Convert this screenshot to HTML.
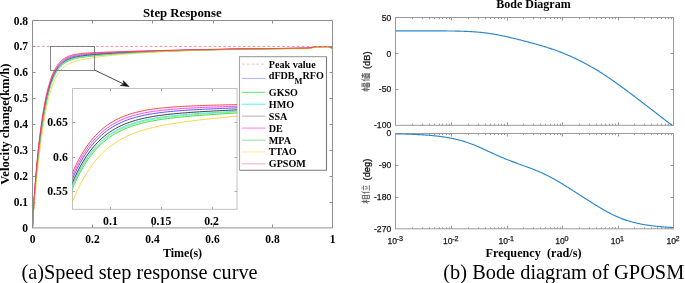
<!DOCTYPE html>
<html><head><meta charset="utf-8"><style>
html,body{margin:0;padding:0;background:#fff;}
svg{display:block;will-change:transform;}
.ser{font-family:"Liberation Serif",serif;}
.sans{font-family:"Liberation Sans",sans-serif;}
</style></head><body>
<svg width="685" height="283" viewBox="0 0 685 283">
<rect x="0" y="0" width="685" height="283" fill="#fff"/>
<defs>
<clipPath id="cm"><rect x="32.5" y="20.5" width="300" height="207.2"/></clipPath>
<clipPath id="ci"><rect x="72.5" y="88.5" width="164.5" height="120.8"/></clipPath>
<clipPath id="cb1"><rect x="395.5" y="17.5" width="278" height="108"/></clipPath>
<clipPath id="cb2"><rect x="395.5" y="133.3" width="278" height="96"/></clipPath>
</defs>

<g class="ser" font-weight="bold" fill="#000">
<text x="182.3" y="16.6" font-size="12.8" text-anchor="middle">Step Response</text>
<text x="28" y="231.70" font-size="11.5" text-anchor="end">0</text>
<text x="28" y="205.80" font-size="11.5" text-anchor="end">0.1</text>
<text x="28" y="179.90" font-size="11.5" text-anchor="end">0.2</text>
<text x="28" y="154.00" font-size="11.5" text-anchor="end">0.3</text>
<text x="28" y="128.10" font-size="11.5" text-anchor="end">0.4</text>
<text x="28" y="102.20" font-size="11.5" text-anchor="end">0.5</text>
<text x="28" y="76.30" font-size="11.5" text-anchor="end">0.6</text>
<text x="28" y="50.40" font-size="11.5" text-anchor="end">0.7</text>
<text x="28" y="24.50" font-size="11.5" text-anchor="end">0.8</text>
<text x="32.50" y="242.9" font-size="11.5" text-anchor="middle">0</text>
<text x="92.50" y="242.9" font-size="11.5" text-anchor="middle">0.2</text>
<text x="152.50" y="242.9" font-size="11.5" text-anchor="middle">0.4</text>
<text x="212.50" y="242.9" font-size="11.5" text-anchor="middle">0.6</text>
<text x="272.50" y="242.9" font-size="11.5" text-anchor="middle">0.8</text>
<text x="332.50" y="242.9" font-size="11.5" text-anchor="middle">1</text>
<text x="182.5" y="257.3" font-size="12" text-anchor="middle">Time(s)</text>
<text transform="translate(9.2,124.1) rotate(-90)" x="0" y="0" font-size="12.7" text-anchor="middle">Velocity change(km/h)</text>
</g>
<g clip-path="url(#cm)" fill="none" stroke-width="0.75">
<path d="M32.50,227.70 L32.88,220.50 L33.26,213.83 L33.64,207.61 L34.02,201.77 L34.40,196.28 L34.78,191.08 L35.16,186.15 L35.54,181.44 L35.92,176.94 L36.30,172.63 L36.68,168.48 L37.06,164.49 L37.44,160.64 L37.82,156.92 L38.20,153.33 L38.58,149.85 L38.96,146.48 L39.34,143.21 L39.72,140.05 L40.09,136.98 L40.47,134.01 L40.85,131.12 L41.23,128.33 L41.61,125.62 L41.99,122.99 L42.37,120.44 L42.75,117.98 L43.13,115.59 L43.51,113.28 L43.89,111.04 L44.27,108.88 L44.65,106.79 L45.03,104.77 L45.41,102.81 L45.79,100.92 L46.17,99.10 L46.55,97.34 L46.93,95.64 L47.31,94.01 L47.69,92.43 L48.07,90.90 L48.45,89.44 L48.83,88.03 L49.21,86.67 L49.59,85.36 L49.97,84.10 L50.35,82.89 L50.73,81.72 L51.11,80.60 L51.49,79.52 L51.87,78.49 L52.25,77.49 L52.63,76.54 L53.01,75.62 L53.39,74.74 L53.77,73.89 L54.15,73.08 L54.53,72.30 L54.91,71.56 L55.28,70.84 L55.66,70.15 L56.04,69.49 L56.42,68.86 L56.80,68.26 L57.18,67.68 L57.56,67.12 L57.94,66.59 L58.32,66.08 L58.70,65.59 L59.08,65.12 L59.46,64.67 L59.84,64.24 L60.22,63.83 L60.60,63.43 L60.98,63.05 L61.36,62.69 L61.74,62.35 L62.12,62.01 L62.50,61.70 L64.77,60.05 L67.04,58.78 L69.31,57.79 L71.58,57.01 L73.84,56.40 L76.11,55.90 L78.38,55.50 L80.65,55.17 L82.92,54.89 L85.19,54.64 L87.46,54.43 L89.73,54.24 L92.00,54.06 L94.26,53.90 L96.53,53.75 L98.80,53.60 L101.07,53.47 L103.34,53.34 L105.61,53.21 L107.88,53.09 L110.15,52.97 L112.42,52.85 L114.68,52.74 L116.95,52.63 L119.22,52.52 L121.49,52.42 L123.76,52.32 L126.03,52.22 L128.30,52.12 L130.57,52.02 L132.84,51.93 L135.11,51.83 L137.37,51.74 L139.64,51.66 L141.91,51.57 L144.18,51.48 L146.45,51.40 L148.72,51.32 L150.99,51.24 L153.26,51.16 L155.53,51.08 L157.79,51.01 L160.06,50.93 L162.33,50.86 L164.60,50.79 L166.87,50.72 L169.14,50.65 L171.41,50.59 L173.68,50.52 L175.95,50.46 L178.21,50.39 L180.48,50.33 L182.75,50.27 L185.02,50.21 L187.29,50.15 L189.56,50.10 L191.83,50.04 L194.10,49.98 L196.37,49.93 L198.63,49.88 L200.90,49.83 L203.17,49.77 L205.44,49.73 L207.71,49.68 L209.98,49.63 L212.25,49.58 L214.52,49.53 L216.79,49.49 L219.05,49.45 L221.32,49.40 L223.59,49.36 L225.86,49.32 L228.13,49.28 L230.40,49.24 L232.67,49.20 L234.94,49.16 L237.21,49.12 L239.47,49.08 L241.74,49.04 L244.01,49.01 L246.28,48.97 L248.55,48.94 L250.82,48.90 L253.09,48.87 L255.36,48.84 L257.63,48.81 L259.89,48.77 L262.16,48.74 L264.43,48.71 L266.70,48.68 L268.97,48.65 L271.24,48.62 L273.51,48.60 L275.78,48.57 L278.05,48.54 L280.32,48.51 L282.58,48.49 L284.85,48.46 L287.12,48.44 L289.39,48.41 L291.66,48.39 L293.93,48.36 L296.20,48.34 L298.47,48.31 L300.74,48.29 L303.00,48.27 L305.27,48.25 L307.54,48.21 L309.81,47.95 L312.08,47.51 L314.35,47.05 L316.62,46.75 L318.89,46.70 L321.16,46.68 L323.42,46.66 L325.69,46.64 L327.96,46.62 L330.23,47.31 L332.50,48.01" stroke="#3d3dff"/>
<path d="M32.50,227.70 L32.88,220.71 L33.26,214.36 L33.64,208.52 L34.02,203.12 L34.40,198.07 L34.78,193.31 L35.16,188.81 L35.54,184.51 L35.92,180.39 L36.30,176.43 L36.68,172.59 L37.06,168.88 L37.44,165.27 L37.82,161.76 L38.20,158.34 L38.58,155.01 L38.96,151.75 L39.34,148.58 L39.72,145.48 L40.09,142.46 L40.47,139.51 L40.85,136.63 L41.23,133.83 L41.61,131.10 L41.99,128.44 L42.37,125.85 L42.75,123.34 L43.13,120.90 L43.51,118.52 L43.89,116.22 L44.27,113.99 L44.65,111.82 L45.03,109.73 L45.41,107.70 L45.79,105.74 L46.17,103.84 L46.55,102.01 L46.93,100.23 L47.31,98.52 L47.69,96.88 L48.07,95.29 L48.45,93.75 L48.83,92.28 L49.21,90.85 L49.59,89.48 L49.97,88.17 L50.35,86.90 L50.73,85.68 L51.11,84.51 L51.49,83.38 L51.87,82.30 L52.25,81.26 L52.63,80.26 L53.01,79.30 L53.39,78.38 L53.77,77.50 L54.15,76.65 L54.53,75.84 L54.91,75.06 L55.28,74.32 L55.66,73.60 L56.04,72.92 L56.42,72.26 L56.80,71.63 L57.18,71.02 L57.56,70.44 L57.94,69.89 L58.32,69.36 L58.70,68.85 L59.08,68.36 L59.46,67.89 L59.84,67.45 L60.22,67.02 L60.60,66.61 L60.98,66.21 L61.36,65.83 L61.74,65.47 L62.12,65.13 L62.50,64.79 L64.77,63.07 L67.04,61.73 L69.31,60.67 L71.58,59.82 L73.84,59.13 L76.11,58.56 L78.38,58.08 L80.65,57.67 L82.92,57.31 L85.19,56.99 L87.46,56.70 L89.73,56.43 L92.00,56.18 L94.26,55.94 L96.53,55.72 L98.80,55.50 L101.07,55.30 L103.34,55.10 L105.61,54.91 L107.88,54.72 L110.15,54.54 L112.42,54.36 L114.68,54.19 L116.95,54.03 L119.22,53.87 L121.49,53.71 L123.76,53.56 L126.03,53.41 L128.30,53.26 L130.57,53.12 L132.84,52.98 L135.11,52.85 L137.37,52.72 L139.64,52.59 L141.91,52.46 L144.18,52.34 L146.45,52.22 L148.72,52.11 L150.99,51.99 L153.26,51.88 L155.53,51.78 L157.79,51.67 L160.06,51.57 L162.33,51.47 L164.60,51.38 L166.87,51.28 L169.14,51.19 L171.41,51.10 L173.68,51.01 L175.95,50.93 L178.21,50.85 L180.48,50.77 L182.75,50.69 L185.02,50.61 L187.29,50.54 L189.56,50.46 L191.83,50.39 L194.10,50.32 L196.37,50.26 L198.63,50.19 L200.90,50.13 L203.17,50.06 L205.44,50.00 L207.71,49.94 L209.98,49.88 L212.25,49.83 L214.52,49.77 L216.79,49.72 L219.05,49.67 L221.32,49.62 L223.59,49.57 L225.86,49.52 L228.13,49.47 L230.40,49.43 L232.67,49.38 L234.94,49.34 L237.21,49.29 L239.47,49.25 L241.74,49.21 L244.01,49.17 L246.28,49.13 L248.55,49.10 L250.82,49.06 L253.09,49.02 L255.36,48.99 L257.63,48.96 L259.89,48.92 L262.16,48.89 L264.43,48.86 L266.70,48.83 L268.97,48.80 L271.24,48.77 L273.51,48.74 L275.78,48.71 L278.05,48.69 L280.32,48.66 L282.58,48.64 L284.85,48.61 L287.12,48.59 L289.39,48.56 L291.66,48.54 L293.93,48.52 L296.20,48.50 L298.47,48.47 L300.74,48.45 L303.00,48.43 L305.27,48.41 L307.54,48.38 L309.81,48.12 L312.08,47.68 L314.35,47.22 L316.62,46.93 L318.89,46.88 L321.16,46.86 L323.42,46.85 L325.69,46.83 L327.96,46.82 L330.23,47.51 L332.50,48.21" stroke="#1fe01f"/>
<path d="M32.50,227.70 L32.88,220.64 L33.26,214.18 L33.64,208.22 L34.02,202.68 L34.40,197.48 L34.78,192.58 L35.16,187.94 L35.54,183.51 L35.92,179.26 L36.30,175.18 L36.68,171.25 L37.06,167.44 L37.44,163.75 L37.82,160.18 L38.20,156.70 L38.58,153.32 L38.96,150.02 L39.34,146.82 L39.72,143.70 L40.09,140.66 L40.47,137.70 L40.85,134.83 L41.23,132.02 L41.61,129.30 L41.99,126.65 L42.37,124.08 L42.75,121.58 L43.13,119.16 L43.51,116.80 L43.89,114.52 L44.27,112.31 L44.65,110.17 L45.03,108.10 L45.41,106.10 L45.79,104.16 L46.17,102.29 L46.55,100.48 L46.93,98.73 L47.31,97.04 L47.69,95.42 L48.07,93.85 L48.45,92.34 L48.83,90.88 L49.21,89.48 L49.59,88.13 L49.97,86.83 L50.35,85.58 L50.73,84.38 L51.11,83.23 L51.49,82.12 L51.87,81.05 L52.25,80.02 L52.63,79.04 L53.01,78.10 L53.39,77.19 L53.77,76.32 L54.15,75.48 L54.53,74.68 L54.91,73.91 L55.28,73.18 L55.66,72.47 L56.04,71.79 L56.42,71.14 L56.80,70.52 L57.18,69.93 L57.56,69.35 L57.94,68.81 L58.32,68.28 L58.70,67.78 L59.08,67.30 L59.46,66.84 L59.84,66.39 L60.22,65.97 L60.60,65.57 L60.98,65.18 L61.36,64.80 L61.74,64.45 L62.12,64.10 L62.50,63.78 L64.77,62.08 L67.04,60.76 L69.31,59.72 L71.58,58.90 L73.84,58.23 L76.11,57.69 L78.38,57.24 L80.65,56.85 L82.92,56.52 L85.19,56.22 L87.46,55.95 L89.73,55.71 L92.00,55.48 L94.26,55.27 L96.53,55.07 L98.80,54.88 L101.07,54.70 L103.34,54.52 L105.61,54.35 L107.88,54.19 L110.15,54.03 L112.42,53.87 L114.68,53.72 L116.95,53.57 L119.22,53.43 L121.49,53.29 L123.76,53.15 L126.03,53.02 L128.30,52.89 L130.57,52.76 L132.84,52.64 L135.11,52.51 L137.37,52.40 L139.64,52.28 L141.91,52.17 L144.18,52.06 L146.45,51.95 L148.72,51.85 L150.99,51.75 L153.26,51.65 L155.53,51.55 L157.79,51.46 L160.06,51.36 L162.33,51.27 L164.60,51.18 L166.87,51.10 L169.14,51.01 L171.41,50.93 L173.68,50.85 L175.95,50.77 L178.21,50.70 L180.48,50.62 L182.75,50.55 L185.02,50.48 L187.29,50.41 L189.56,50.34 L191.83,50.28 L194.10,50.21 L196.37,50.15 L198.63,50.09 L200.90,50.03 L203.17,49.97 L205.44,49.91 L207.71,49.86 L209.98,49.80 L212.25,49.75 L214.52,49.70 L216.79,49.64 L219.05,49.59 L221.32,49.55 L223.59,49.50 L225.86,49.45 L228.13,49.41 L230.40,49.36 L232.67,49.32 L234.94,49.28 L237.21,49.24 L239.47,49.20 L241.74,49.16 L244.01,49.12 L246.28,49.08 L248.55,49.04 L250.82,49.01 L253.09,48.97 L255.36,48.94 L257.63,48.91 L259.89,48.87 L262.16,48.84 L264.43,48.81 L266.70,48.78 L268.97,48.75 L271.24,48.72 L273.51,48.69 L275.78,48.67 L278.05,48.64 L280.32,48.61 L282.58,48.59 L284.85,48.56 L287.12,48.54 L289.39,48.51 L291.66,48.49 L293.93,48.47 L296.20,48.44 L298.47,48.42 L300.74,48.40 L303.00,48.38 L305.27,48.36 L307.54,48.33 L309.81,48.07 L312.08,47.62 L314.35,47.16 L316.62,46.87 L318.89,46.82 L321.16,46.80 L323.42,46.79 L325.69,46.77 L327.96,46.75 L330.23,47.44 L332.50,48.15" stroke="#1fe8e8"/>
<path d="M32.50,227.70 L32.88,220.59 L33.26,214.04 L33.64,207.97 L34.02,202.30 L34.40,196.98 L34.78,191.96 L35.16,187.19 L35.54,182.65 L35.92,178.30 L36.30,174.12 L36.68,170.10 L37.06,166.22 L37.44,162.46 L37.82,158.83 L38.20,155.30 L38.58,151.88 L38.96,148.55 L39.34,145.32 L39.72,142.19 L40.09,139.14 L40.47,136.17 L40.85,133.29 L41.23,130.49 L41.61,127.77 L41.99,125.13 L42.37,122.57 L42.75,120.09 L43.13,117.68 L43.51,115.34 L43.89,113.08 L44.27,110.89 L44.65,108.77 L45.03,106.72 L45.41,104.73 L45.79,102.82 L46.17,100.96 L46.55,99.18 L46.93,97.45 L47.31,95.78 L47.69,94.18 L48.07,92.63 L48.45,91.14 L48.83,89.70 L49.21,88.31 L49.59,86.98 L49.97,85.70 L50.35,84.46 L50.73,83.28 L51.11,82.14 L51.49,81.04 L51.87,79.99 L52.25,78.97 L52.63,78.00 L53.01,77.07 L53.39,76.17 L53.77,75.31 L54.15,74.49 L54.53,73.70 L54.91,72.94 L55.28,72.21 L55.66,71.51 L56.04,70.84 L56.42,70.20 L56.80,69.58 L57.18,68.99 L57.56,68.43 L57.94,67.89 L58.32,67.37 L58.70,66.87 L59.08,66.39 L59.46,65.94 L59.84,65.50 L60.22,65.08 L60.60,64.68 L60.98,64.30 L61.36,63.93 L61.74,63.58 L62.12,63.24 L62.50,62.91 L64.77,61.24 L67.04,59.94 L69.31,58.92 L71.58,58.12 L73.84,57.47 L76.11,56.95 L78.38,56.52 L80.65,56.15 L82.92,55.84 L85.19,55.57 L87.46,55.32 L89.73,55.10 L92.00,54.89 L94.26,54.70 L96.53,54.52 L98.80,54.35 L101.07,54.19 L103.34,54.03 L105.61,53.88 L107.88,53.73 L110.15,53.59 L112.42,53.45 L114.68,53.31 L116.95,53.18 L119.22,53.05 L121.49,52.93 L123.76,52.80 L126.03,52.68 L128.30,52.57 L130.57,52.45 L132.84,52.34 L135.11,52.23 L137.37,52.13 L139.64,52.02 L141.91,51.92 L144.18,51.82 L146.45,51.72 L148.72,51.63 L150.99,51.54 L153.26,51.45 L155.53,51.36 L157.79,51.27 L160.06,51.18 L162.33,51.10 L164.60,51.02 L166.87,50.94 L169.14,50.86 L171.41,50.79 L173.68,50.71 L175.95,50.64 L178.21,50.57 L180.48,50.50 L182.75,50.43 L185.02,50.37 L187.29,50.30 L189.56,50.24 L191.83,50.18 L194.10,50.12 L196.37,50.06 L198.63,50.00 L200.90,49.94 L203.17,49.89 L205.44,49.83 L207.71,49.78 L209.98,49.73 L212.25,49.68 L214.52,49.63 L216.79,49.58 L219.05,49.53 L221.32,49.49 L223.59,49.44 L225.86,49.40 L228.13,49.35 L230.40,49.31 L232.67,49.27 L234.94,49.23 L237.21,49.19 L239.47,49.15 L241.74,49.11 L244.01,49.07 L246.28,49.04 L248.55,49.00 L250.82,48.97 L253.09,48.93 L255.36,48.90 L257.63,48.86 L259.89,48.83 L262.16,48.80 L264.43,48.77 L266.70,48.74 L268.97,48.71 L271.24,48.68 L273.51,48.65 L275.78,48.63 L278.05,48.60 L280.32,48.57 L282.58,48.55 L284.85,48.52 L287.12,48.49 L289.39,48.47 L291.66,48.45 L293.93,48.42 L296.20,48.40 L298.47,48.38 L300.74,48.36 L303.00,48.33 L305.27,48.31 L307.54,48.28 L309.81,48.02 L312.08,47.57 L314.35,47.12 L316.62,46.82 L318.89,46.77 L321.16,46.75 L323.42,46.73 L325.69,46.72 L327.96,46.70 L330.23,47.39 L332.50,48.09" stroke="#222222"/>
<path d="M32.50,227.70 L32.88,220.44 L33.26,213.67 L33.64,207.32 L34.02,201.36 L34.40,195.72 L34.78,190.39 L35.16,185.32 L35.54,180.49 L35.92,175.87 L36.30,171.45 L36.68,167.20 L37.06,163.13 L37.44,159.20 L37.82,155.42 L38.20,151.77 L38.58,148.24 L38.96,144.84 L39.34,141.54 L39.72,138.36 L40.09,135.27 L40.47,132.29 L40.85,129.41 L41.23,126.61 L41.61,123.91 L41.99,121.29 L42.37,118.76 L42.75,116.31 L43.13,113.94 L43.51,111.65 L43.89,109.43 L44.27,107.29 L44.65,105.22 L45.03,103.22 L45.41,101.29 L45.79,99.42 L46.17,97.62 L46.55,95.89 L46.93,94.21 L47.31,92.60 L47.69,91.04 L48.07,89.54 L48.45,88.09 L48.83,86.70 L49.21,85.36 L49.59,84.07 L49.97,82.83 L50.35,81.64 L50.73,80.49 L51.11,79.38 L51.49,78.32 L51.87,77.30 L52.25,76.32 L52.63,75.38 L53.01,74.47 L53.39,73.60 L53.77,72.77 L54.15,71.97 L54.53,71.20 L54.91,70.46 L55.28,69.76 L55.66,69.08 L56.04,68.43 L56.42,67.81 L56.80,67.21 L57.18,66.64 L57.56,66.09 L57.94,65.56 L58.32,65.06 L58.70,64.57 L59.08,64.11 L59.46,63.67 L59.84,63.24 L60.22,62.83 L60.60,62.44 L60.98,62.07 L61.36,61.71 L61.74,61.37 L62.12,61.04 L62.50,60.73 L64.77,59.11 L67.04,57.86 L69.31,56.90 L71.58,56.14 L73.84,55.55 L76.11,55.08 L78.38,54.70 L80.65,54.39 L82.92,54.13 L85.19,53.91 L87.46,53.72 L89.73,53.55 L92.00,53.40 L94.26,53.26 L96.53,53.13 L98.80,53.01 L101.07,52.90 L103.34,52.79 L105.61,52.68 L107.88,52.58 L110.15,52.48 L112.42,52.38 L114.68,52.29 L116.95,52.20 L119.22,52.11 L121.49,52.02 L123.76,51.93 L126.03,51.85 L128.30,51.76 L130.57,51.68 L132.84,51.60 L135.11,51.52 L137.37,51.44 L139.64,51.37 L141.91,51.29 L144.18,51.22 L146.45,51.14 L148.72,51.07 L150.99,51.00 L153.26,50.93 L155.53,50.87 L157.79,50.80 L160.06,50.73 L162.33,50.67 L164.60,50.61 L166.87,50.55 L169.14,50.48 L171.41,50.42 L173.68,50.37 L175.95,50.31 L178.21,50.25 L180.48,50.20 L182.75,50.14 L185.02,50.09 L187.29,50.03 L189.56,49.98 L191.83,49.93 L194.10,49.88 L196.37,49.83 L198.63,49.78 L200.90,49.73 L203.17,49.69 L205.44,49.64 L207.71,49.59 L209.98,49.55 L212.25,49.50 L214.52,49.46 L216.79,49.42 L219.05,49.38 L221.32,49.33 L223.59,49.29 L225.86,49.25 L228.13,49.21 L230.40,49.18 L232.67,49.14 L234.94,49.10 L237.21,49.06 L239.47,49.03 L241.74,48.99 L244.01,48.96 L246.28,48.92 L248.55,48.89 L250.82,48.86 L253.09,48.82 L255.36,48.79 L257.63,48.76 L259.89,48.73 L262.16,48.70 L264.43,48.67 L266.70,48.64 L268.97,48.61 L271.24,48.58 L273.51,48.55 L275.78,48.52 L278.05,48.49 L280.32,48.47 L282.58,48.44 L284.85,48.41 L287.12,48.39 L289.39,48.36 L291.66,48.34 L293.93,48.31 L296.20,48.29 L298.47,48.26 L300.74,48.24 L303.00,48.22 L305.27,48.20 L307.54,48.16 L309.81,47.90 L312.08,47.45 L314.35,46.99 L316.62,46.69 L318.89,46.64 L321.16,46.62 L323.42,46.60 L325.69,46.58 L327.96,46.56 L330.23,47.25 L332.50,47.95" stroke="#ff2eff"/>
<path d="M32.50,227.70 L32.88,220.67 L33.26,214.25 L33.64,208.34 L34.02,202.85 L34.40,197.72 L34.78,192.88 L35.16,188.29 L35.54,183.91 L35.92,179.71 L36.30,175.68 L36.68,171.79 L37.06,168.02 L37.44,164.36 L37.82,160.81 L38.20,157.36 L38.58,153.99 L38.96,150.72 L39.34,147.52 L39.72,144.41 L40.09,141.38 L40.47,138.43 L40.85,135.55 L41.23,132.75 L41.61,130.02 L41.99,127.37 L42.37,124.79 L42.75,122.29 L43.13,119.85 L43.51,117.49 L43.89,115.20 L44.27,112.98 L44.65,110.83 L45.03,108.75 L45.41,106.74 L45.79,104.79 L46.17,102.91 L46.55,101.09 L46.93,99.33 L47.31,97.64 L47.69,96.00 L48.07,94.42 L48.45,92.90 L48.83,91.44 L49.21,90.03 L49.59,88.67 L49.97,87.37 L50.35,86.11 L50.73,84.90 L51.11,83.74 L51.49,82.62 L51.87,81.55 L52.25,80.52 L52.63,79.53 L53.01,78.58 L53.39,77.67 L53.77,76.79 L54.15,75.95 L54.53,75.15 L54.91,74.37 L55.28,73.63 L55.66,72.92 L56.04,72.24 L56.42,71.59 L56.80,70.96 L57.18,70.37 L57.56,69.79 L57.94,69.24 L58.32,68.71 L58.70,68.21 L59.08,67.72 L59.46,67.26 L59.84,66.82 L60.22,66.39 L60.60,65.98 L60.98,65.59 L61.36,65.22 L61.74,64.86 L62.12,64.51 L62.50,64.18 L64.77,62.48 L67.04,61.15 L69.31,60.10 L71.58,59.27 L73.84,58.59 L76.11,58.04 L78.38,57.57 L80.65,57.18 L82.92,56.83 L85.19,56.53 L87.46,56.25 L89.73,56.00 L92.00,55.76 L94.26,55.54 L96.53,55.33 L98.80,55.13 L101.07,54.94 L103.34,54.75 L105.61,54.57 L107.88,54.40 L110.15,54.23 L112.42,54.07 L114.68,53.91 L116.95,53.75 L119.22,53.60 L121.49,53.46 L123.76,53.31 L126.03,53.17 L128.30,53.04 L130.57,52.90 L132.84,52.77 L135.11,52.65 L137.37,52.52 L139.64,52.40 L141.91,52.29 L144.18,52.17 L146.45,52.06 L148.72,51.95 L150.99,51.85 L153.26,51.74 L155.53,51.64 L157.79,51.54 L160.06,51.45 L162.33,51.35 L164.60,51.26 L166.87,51.17 L169.14,51.08 L171.41,51.00 L173.68,50.92 L175.95,50.84 L178.21,50.76 L180.48,50.68 L182.75,50.61 L185.02,50.53 L187.29,50.46 L189.56,50.39 L191.83,50.32 L194.10,50.26 L196.37,50.19 L198.63,50.13 L200.90,50.07 L203.17,50.01 L205.44,49.95 L207.71,49.89 L209.98,49.83 L212.25,49.78 L214.52,49.73 L216.79,49.67 L219.05,49.62 L221.32,49.57 L223.59,49.53 L225.86,49.48 L228.13,49.43 L230.40,49.39 L232.67,49.34 L234.94,49.30 L237.21,49.26 L239.47,49.22 L241.74,49.18 L244.01,49.14 L246.28,49.10 L248.55,49.07 L250.82,49.03 L253.09,48.99 L255.36,48.96 L257.63,48.93 L259.89,48.89 L262.16,48.86 L264.43,48.83 L266.70,48.80 L268.97,48.77 L271.24,48.74 L273.51,48.71 L275.78,48.69 L278.05,48.66 L280.32,48.63 L282.58,48.61 L284.85,48.58 L287.12,48.56 L289.39,48.53 L291.66,48.51 L293.93,48.49 L296.20,48.46 L298.47,48.44 L300.74,48.42 L303.00,48.40 L305.27,48.38 L307.54,48.35 L309.81,48.09 L312.08,47.65 L314.35,47.19 L316.62,46.89 L318.89,46.84 L321.16,46.83 L323.42,46.81 L325.69,46.79 L327.96,46.78 L330.23,47.47 L332.50,48.17" stroke="#8fdc8f"/>
<path d="M32.50,227.70 L32.88,222.14 L33.26,216.94 L33.64,212.04 L34.02,207.38 L34.40,202.93 L34.78,198.66 L35.16,194.53 L35.54,190.53 L35.92,186.64 L36.30,182.85 L36.68,179.15 L37.06,175.54 L37.44,172.00 L37.82,168.53 L38.20,165.13 L38.58,161.81 L38.96,158.55 L39.34,155.36 L39.72,152.23 L40.09,149.18 L40.47,146.19 L40.85,143.28 L41.23,140.43 L41.61,137.65 L41.99,134.94 L42.37,132.30 L42.75,129.73 L43.13,127.23 L43.51,124.80 L43.89,122.43 L44.27,120.14 L44.65,117.92 L45.03,115.76 L45.41,113.67 L45.79,111.64 L46.17,109.68 L46.55,107.79 L46.93,105.95 L47.31,104.18 L47.69,102.47 L48.07,100.82 L48.45,99.22 L48.83,97.68 L49.21,96.20 L49.59,94.77 L49.97,93.39 L50.35,92.06 L50.73,90.78 L51.11,89.55 L51.49,88.36 L51.87,87.22 L52.25,86.12 L52.63,85.07 L53.01,84.05 L53.39,83.08 L53.77,82.14 L54.15,81.24 L54.53,80.37 L54.91,79.54 L55.28,78.74 L55.66,77.97 L56.04,77.23 L56.42,76.53 L56.80,75.84 L57.18,75.19 L57.56,74.56 L57.94,73.96 L58.32,73.38 L58.70,72.83 L59.08,72.29 L59.46,71.78 L59.84,71.29 L60.22,70.81 L60.60,70.36 L60.98,69.92 L61.36,69.50 L61.74,69.10 L62.12,68.71 L62.50,68.34 L64.77,66.39 L67.04,64.84 L69.31,63.59 L71.58,62.57 L73.84,61.72 L76.11,61.01 L78.38,60.39 L80.65,59.86 L82.92,59.38 L85.19,58.95 L87.46,58.55 L89.73,58.18 L92.00,57.84 L94.26,57.52 L96.53,57.21 L98.80,56.92 L101.07,56.64 L103.34,56.37 L105.61,56.11 L107.88,55.86 L110.15,55.62 L112.42,55.38 L114.68,55.16 L116.95,54.94 L119.22,54.73 L121.49,54.53 L123.76,54.33 L126.03,54.14 L128.30,53.95 L130.57,53.77 L132.84,53.60 L135.11,53.43 L137.37,53.27 L139.64,53.11 L141.91,52.96 L144.18,52.81 L146.45,52.67 L148.72,52.53 L150.99,52.39 L153.26,52.26 L155.53,52.14 L157.79,52.01 L160.06,51.90 L162.33,51.78 L164.60,51.67 L166.87,51.56 L169.14,51.46 L171.41,51.36 L173.68,51.26 L175.95,51.16 L178.21,51.07 L180.48,50.98 L182.75,50.90 L185.02,50.81 L187.29,50.73 L189.56,50.65 L191.83,50.58 L194.10,50.50 L196.37,50.43 L198.63,50.36 L200.90,50.30 L203.17,50.23 L205.44,50.17 L207.71,50.11 L209.98,50.05 L212.25,49.99 L214.52,49.94 L216.79,49.88 L219.05,49.83 L221.32,49.78 L223.59,49.73 L225.86,49.69 L228.13,49.64 L230.40,49.60 L232.67,49.55 L234.94,49.51 L237.21,49.47 L239.47,49.43 L241.74,49.40 L244.01,49.36 L246.28,49.32 L248.55,49.29 L250.82,49.26 L253.09,49.23 L255.36,49.19 L257.63,49.16 L259.89,49.13 L262.16,49.11 L264.43,49.08 L266.70,49.05 L268.97,49.03 L271.24,49.00 L273.51,48.98 L275.78,48.95 L278.05,48.93 L280.32,48.91 L282.58,48.89 L284.85,48.87 L287.12,48.85 L289.39,48.83 L291.66,48.81 L293.93,48.79 L296.20,48.77 L298.47,48.76 L300.74,48.74 L303.00,48.72 L305.27,48.71 L307.54,48.68 L309.81,48.43 L312.08,47.99 L314.35,47.54 L316.62,47.24 L318.89,47.20 L321.16,47.19 L323.42,47.18 L325.69,47.17 L327.96,47.15 L330.23,47.85 L332.50,48.56" stroke="#ffcf2e"/>
<path d="M32.50,227.70 L32.88,220.37 L33.26,213.49 L33.64,207.02 L34.02,200.92 L34.40,195.14 L34.78,189.66 L35.16,184.45 L35.54,179.48 L35.92,174.74 L36.30,170.20 L36.68,165.86 L37.06,161.69 L37.44,157.68 L37.82,153.83 L38.20,150.12 L38.58,146.55 L38.96,143.11 L39.34,139.78 L39.72,136.58 L40.09,133.48 L40.47,130.49 L40.85,127.60 L41.23,124.81 L41.61,122.11 L41.99,119.50 L42.37,116.98 L42.75,114.55 L43.13,112.20 L43.51,109.93 L43.89,107.73 L44.27,105.61 L44.65,103.57 L45.03,101.59 L45.41,99.69 L45.79,97.85 L46.17,96.07 L46.55,94.36 L46.93,92.71 L47.31,91.12 L47.69,89.58 L48.07,88.10 L48.45,86.68 L48.83,85.31 L49.21,83.99 L49.59,82.72 L49.97,81.50 L50.35,80.32 L50.73,79.19 L51.11,78.10 L51.49,77.06 L51.87,76.05 L52.25,75.08 L52.63,74.16 L53.01,73.26 L53.39,72.41 L53.77,71.59 L54.15,70.80 L54.53,70.04 L54.91,69.31 L55.28,68.62 L55.66,67.95 L56.04,67.31 L56.42,66.69 L56.80,66.10 L57.18,65.54 L57.56,65.00 L57.94,64.48 L58.32,63.98 L58.70,63.50 L59.08,63.05 L59.46,62.61 L59.84,62.19 L60.22,61.79 L60.60,61.40 L60.98,61.04 L61.36,60.68 L61.74,60.35 L62.12,60.02 L62.50,59.71 L64.77,58.12 L67.04,56.90 L69.31,55.95 L71.58,55.22 L73.84,54.65 L76.11,54.21 L78.38,53.85 L80.65,53.57 L82.92,53.33 L85.19,53.14 L87.46,52.98 L89.73,52.83 L92.00,52.71 L94.26,52.59 L96.53,52.49 L98.80,52.39 L101.07,52.30 L103.34,52.21 L105.61,52.13 L107.88,52.04 L110.15,51.97 L112.42,51.89 L114.68,51.81 L116.95,51.74 L119.22,51.67 L121.49,51.59 L123.76,51.52 L126.03,51.45 L128.30,51.39 L130.57,51.32 L132.84,51.25 L135.11,51.19 L137.37,51.12 L139.64,51.06 L141.91,51.00 L144.18,50.94 L146.45,50.87 L148.72,50.81 L150.99,50.75 L153.26,50.70 L155.53,50.64 L157.79,50.58 L160.06,50.53 L162.33,50.47 L164.60,50.42 L166.87,50.36 L169.14,50.31 L171.41,50.26 L173.68,50.20 L175.95,50.15 L178.21,50.10 L180.48,50.05 L182.75,50.00 L185.02,49.96 L187.29,49.91 L189.56,49.86 L191.83,49.81 L194.10,49.77 L196.37,49.72 L198.63,49.68 L200.90,49.63 L203.17,49.59 L205.44,49.55 L207.71,49.51 L209.98,49.46 L212.25,49.42 L214.52,49.38 L216.79,49.34 L219.05,49.30 L221.32,49.26 L223.59,49.23 L225.86,49.19 L228.13,49.15 L230.40,49.11 L232.67,49.08 L234.94,49.04 L237.21,49.01 L239.47,48.97 L241.74,48.94 L244.01,48.90 L246.28,48.87 L248.55,48.84 L250.82,48.80 L253.09,48.77 L255.36,48.74 L257.63,48.71 L259.89,48.68 L262.16,48.65 L264.43,48.62 L266.70,48.59 L268.97,48.56 L271.24,48.53 L273.51,48.50 L275.78,48.47 L278.05,48.45 L280.32,48.42 L282.58,48.39 L284.85,48.36 L287.12,48.34 L289.39,48.31 L291.66,48.29 L293.93,48.26 L296.20,48.24 L298.47,48.21 L300.74,48.19 L303.00,48.16 L305.27,48.14 L307.54,48.11 L309.81,47.84 L312.08,47.39 L314.35,46.93 L316.62,46.63 L318.89,46.58 L321.16,46.56 L323.42,46.54 L325.69,46.52 L327.96,46.50 L330.23,47.18 L332.50,47.88" stroke="#ff2e2e"/>
</g>
<line x1="32.5" y1="46.4" x2="332.5" y2="46.4" stroke="#ff8c8c" stroke-width="1" stroke-dasharray="2.7,2.2" stroke-dashoffset="0.3"/>
<g stroke="#8f8f8f" stroke-width="1" fill="none">
<path d="M32.5,227.9 V20.5 H332.5 V227.9"/>
<line x1="32" y1="227.9" x2="333" y2="227.9"/>
<path d="M32.5,202.5 h3 M332.5,202.5 h-3 M32.5,176.5 h3 M332.5,176.5 h-3 M32.5,150.5 h3 M332.5,150.5 h-3 M32.5,124.5 h3 M332.5,124.5 h-3 M32.5,98.5 h3 M332.5,98.5 h-3 M32.5,72.5 h3 M332.5,72.5 h-3 M32.5,46.5 h3 M332.5,46.5 h-3 M92.5,227.5 v-3 M92.5,20.5 v3 M152.5,227.5 v-3 M152.5,20.5 v3 M213.5,227.5 v-3 M213.5,20.5 v3 M272.5,227.5 v-3 M272.5,20.5 v3"/>
</g>
<rect x="50.5" y="46.5" width="44" height="24" fill="none" stroke="#7a7a7a" stroke-width="0.9"/>
<line x1="94.5" y1="70" x2="126" y2="85.2" stroke="#333" stroke-width="0.9"/>
<path d="M129.1,86.6 L123.2,80.6 L124.0,84.0 L120.2,85.5 Z" fill="#111" stroke="#111" stroke-width="0.5" stroke-linejoin="round"/>
<rect x="72.5" y="88.5" width="164.5" height="120.8" fill="#fff" stroke="#c2c2c2" stroke-width="1"/>
<g clip-path="url(#ci)" fill="none" stroke-width="0.9">
<path d="M64.98,198.08 L66.51,193.77 L68.04,189.66 L69.57,185.72 L71.10,181.96 L72.63,178.38 L74.16,174.96 L75.69,171.69 L77.22,168.58 L78.75,165.61 L80.28,162.79 L81.81,160.10 L83.34,157.53 L84.87,155.10 L86.39,152.78 L87.92,150.57 L89.45,148.47 L90.98,146.48 L92.51,144.58 L94.04,142.78 L95.57,141.07 L97.10,139.45 L98.63,137.91 L100.16,136.44 L101.69,135.06 L103.22,133.74 L104.75,132.49 L106.27,131.30 L107.80,130.17 L109.33,129.10 L110.86,128.09 L112.39,127.13 L113.92,126.22 L115.45,125.35 L116.98,124.53 L118.51,123.75 L120.04,123.01 L121.57,122.31 L123.10,121.65 L124.63,121.02 L126.15,120.42 L127.68,119.85 L129.21,119.31 L130.74,118.80 L132.27,118.32 L133.80,117.86 L135.33,117.42 L136.86,117.00 L138.39,116.61 L139.92,116.23 L141.45,115.88 L142.98,115.54 L144.51,115.21 L146.03,114.90 L147.56,114.61 L149.09,114.33 L150.62,114.07 L152.15,113.81 L153.68,113.57 L155.21,113.34 L156.74,113.12 L158.27,112.91 L159.80,112.71 L161.33,112.51 L162.86,112.33 L164.39,112.15 L165.92,111.98 L167.44,111.82 L168.97,111.66 L170.50,111.51 L172.03,111.37 L173.56,111.23 L175.09,111.10 L176.62,110.97 L178.15,110.84 L179.68,110.73 L181.21,110.61 L182.74,110.50 L184.27,110.39 L185.80,110.28 L187.32,110.18 L188.85,110.08 L190.38,109.99 L191.91,109.89 L193.44,109.80 L194.97,109.71 L196.50,109.63 L198.03,109.54 L199.56,109.46 L201.09,109.38 L202.62,109.30 L204.15,109.23 L205.68,109.15 L207.20,109.08 L208.73,109.01 L210.26,108.94 L211.79,108.87 L213.32,108.80 L214.85,108.73 L216.38,108.66 L217.91,108.60 L219.44,108.54 L220.97,108.47 L222.50,108.41 L224.03,108.35 L225.56,108.29 L227.08,108.23 L228.61,108.17 L230.14,108.11 L231.67,108.05 L233.20,107.99 L234.73,107.94 L236.26,107.88 L237.79,107.82 L239.32,107.77 L240.85,107.71 L242.38,107.66 L243.91,107.60 L245.44,107.55 L246.96,107.50" stroke="#3d3dff"/>
<path d="M64.98,208.35 L66.51,203.94 L68.04,199.73 L69.57,195.70 L71.10,191.85 L72.63,188.17 L74.16,184.66 L75.69,181.31 L77.22,178.12 L78.75,175.08 L80.28,172.18 L81.81,169.42 L83.34,166.79 L84.87,164.29 L86.39,161.90 L87.92,159.64 L89.45,157.48 L90.98,155.43 L92.51,153.48 L94.04,151.62 L95.57,149.86 L97.10,148.18 L98.63,146.59 L100.16,145.07 L101.69,143.64 L103.22,142.27 L104.75,140.97 L106.27,139.74 L107.80,138.56 L109.33,137.45 L110.86,136.39 L112.39,135.39 L113.92,134.43 L115.45,133.52 L116.98,132.66 L118.51,131.84 L120.04,131.06 L121.57,130.31 L123.10,129.61 L124.63,128.94 L126.15,128.30 L127.68,127.69 L129.21,127.11 L130.74,126.56 L132.27,126.03 L133.80,125.53 L135.33,125.05 L136.86,124.59 L138.39,124.16 L139.92,123.74 L141.45,123.34 L142.98,122.96 L144.51,122.60 L146.03,122.25 L147.56,121.92 L149.09,121.60 L150.62,121.29 L152.15,121.00 L153.68,120.71 L155.21,120.44 L156.74,120.18 L158.27,119.93 L159.80,119.69 L161.33,119.46 L162.86,119.23 L164.39,119.02 L165.92,118.81 L167.44,118.60 L168.97,118.41 L170.50,118.22 L172.03,118.03 L173.56,117.86 L175.09,117.68 L176.62,117.52 L178.15,117.35 L179.68,117.19 L181.21,117.04 L182.74,116.89 L184.27,116.74 L185.80,116.60 L187.32,116.46 L188.85,116.32 L190.38,116.18 L191.91,116.05 L193.44,115.92 L194.97,115.80 L196.50,115.67 L198.03,115.55 L199.56,115.43 L201.09,115.31 L202.62,115.20 L204.15,115.08 L205.68,114.97 L207.20,114.86 L208.73,114.75 L210.26,114.64 L211.79,114.53 L213.32,114.43 L214.85,114.33 L216.38,114.22 L217.91,114.12 L219.44,114.02 L220.97,113.92 L222.50,113.82 L224.03,113.72 L225.56,113.63 L227.08,113.53 L228.61,113.44 L230.14,113.34 L231.67,113.25 L233.20,113.16 L234.73,113.07 L236.26,112.97 L237.79,112.88 L239.32,112.79 L240.85,112.70 L242.38,112.61 L243.91,112.53 L245.44,112.44 L246.96,112.35" stroke="#1fe01f"/>
<path d="M64.98,204.98 L66.51,200.61 L68.04,196.42 L69.57,192.43 L71.10,188.61 L72.63,184.96 L74.16,181.48 L75.69,178.16 L77.22,174.99 L78.75,171.98 L80.28,169.10 L81.81,166.36 L83.34,163.76 L84.87,161.27 L86.39,158.91 L87.92,156.66 L89.45,154.53 L90.98,152.49 L92.51,150.56 L94.04,148.72 L95.57,146.98 L97.10,145.32 L98.63,143.74 L100.16,142.25 L101.69,140.82 L103.22,139.47 L104.75,138.19 L106.27,136.97 L107.80,135.81 L109.33,134.71 L110.86,133.67 L112.39,132.68 L113.92,131.74 L115.45,130.84 L116.98,129.99 L118.51,129.19 L120.04,128.42 L121.57,127.69 L123.10,127.00 L124.63,126.34 L126.15,125.71 L127.68,125.12 L129.21,124.55 L130.74,124.01 L132.27,123.50 L133.80,123.01 L135.33,122.55 L136.86,122.10 L138.39,121.68 L139.92,121.28 L141.45,120.89 L142.98,120.53 L144.51,120.18 L146.03,119.84 L147.56,119.52 L149.09,119.22 L150.62,118.92 L152.15,118.64 L153.68,118.37 L155.21,118.11 L156.74,117.87 L158.27,117.63 L159.80,117.40 L161.33,117.18 L162.86,116.97 L164.39,116.77 L165.92,116.57 L167.44,116.38 L168.97,116.20 L170.50,116.02 L172.03,115.85 L173.56,115.68 L175.09,115.52 L176.62,115.37 L178.15,115.22 L179.68,115.07 L181.21,114.93 L182.74,114.79 L184.27,114.66 L185.80,114.53 L187.32,114.40 L188.85,114.27 L190.38,114.15 L191.91,114.03 L193.44,113.92 L194.97,113.80 L196.50,113.69 L198.03,113.58 L199.56,113.47 L201.09,113.37 L202.62,113.26 L204.15,113.16 L205.68,113.06 L207.20,112.96 L208.73,112.87 L210.26,112.77 L211.79,112.68 L213.32,112.58 L214.85,112.49 L216.38,112.40 L217.91,112.31 L219.44,112.22 L220.97,112.13 L222.50,112.05 L224.03,111.96 L225.56,111.88 L227.08,111.79 L228.61,111.71 L230.14,111.63 L231.67,111.55 L233.20,111.46 L234.73,111.38 L236.26,111.30 L237.79,111.22 L239.32,111.15 L240.85,111.07 L242.38,110.99 L243.91,110.91 L245.44,110.84 L246.96,110.76" stroke="#1fe8e8"/>
<path d="M64.98,202.12 L66.51,197.77 L68.04,193.62 L69.57,189.65 L71.10,185.85 L72.63,182.23 L74.16,178.77 L75.69,175.48 L77.22,172.33 L78.75,169.34 L80.28,166.48 L81.81,163.76 L83.34,161.18 L84.87,158.71 L86.39,156.37 L87.92,154.14 L89.45,152.02 L90.98,150.00 L92.51,148.08 L94.04,146.26 L95.57,144.53 L97.10,142.89 L98.63,141.32 L100.16,139.84 L101.69,138.43 L103.22,137.09 L104.75,135.82 L106.27,134.62 L107.80,133.47 L109.33,132.39 L110.86,131.36 L112.39,130.38 L113.92,129.45 L115.45,128.57 L116.98,127.73 L118.51,126.93 L120.04,126.18 L121.57,125.46 L123.10,124.78 L124.63,124.13 L126.15,123.52 L127.68,122.94 L129.21,122.38 L130.74,121.85 L132.27,121.35 L133.80,120.88 L135.33,120.42 L136.86,119.99 L138.39,119.58 L139.92,119.19 L141.45,118.81 L142.98,118.46 L144.51,118.12 L146.03,117.79 L147.56,117.49 L149.09,117.19 L150.62,116.91 L152.15,116.64 L153.68,116.38 L155.21,116.13 L156.74,115.90 L158.27,115.67 L159.80,115.45 L161.33,115.25 L162.86,115.05 L164.39,114.85 L165.92,114.67 L167.44,114.49 L168.97,114.32 L170.50,114.15 L172.03,113.99 L173.56,113.84 L175.09,113.69 L176.62,113.54 L178.15,113.41 L179.68,113.27 L181.21,113.14 L182.74,113.01 L184.27,112.89 L185.80,112.77 L187.32,112.65 L188.85,112.54 L190.38,112.42 L191.91,112.32 L193.44,112.21 L194.97,112.11 L196.50,112.01 L198.03,111.91 L199.56,111.81 L201.09,111.72 L202.62,111.62 L204.15,111.53 L205.68,111.44 L207.20,111.35 L208.73,111.27 L210.26,111.18 L211.79,111.10 L213.32,111.01 L214.85,110.93 L216.38,110.85 L217.91,110.77 L219.44,110.69 L220.97,110.62 L222.50,110.54 L224.03,110.46 L225.56,110.39 L227.08,110.31 L228.61,110.24 L230.14,110.17 L231.67,110.10 L233.20,110.02 L234.73,109.95 L236.26,109.88 L237.79,109.81 L239.32,109.74 L240.85,109.68 L242.38,109.61 L243.91,109.54 L245.44,109.47 L246.96,109.41" stroke="#222222"/>
<path d="M64.98,194.88 L66.51,190.60 L68.04,186.52 L69.57,182.62 L71.10,178.89 L72.63,175.33 L74.16,171.93 L75.69,168.69 L77.22,165.61 L78.75,162.66 L80.28,159.86 L81.81,157.19 L83.34,154.65 L84.87,152.23 L86.39,149.93 L87.92,147.75 L89.45,145.67 L90.98,143.69 L92.51,141.81 L94.04,140.03 L95.57,138.34 L97.10,136.73 L98.63,135.20 L100.16,133.76 L101.69,132.38 L103.22,131.08 L104.75,129.84 L106.27,128.67 L107.80,127.56 L109.33,126.50 L110.86,125.50 L112.39,124.55 L113.92,123.66 L115.45,122.81 L116.98,122.00 L118.51,121.23 L120.04,120.51 L121.57,119.82 L123.10,119.17 L124.63,118.55 L126.15,117.97 L127.68,117.41 L129.21,116.89 L130.74,116.39 L132.27,115.92 L133.80,115.47 L135.33,115.04 L136.86,114.64 L138.39,114.26 L139.92,113.89 L141.45,113.55 L142.98,113.22 L144.51,112.91 L146.03,112.62 L147.56,112.34 L149.09,112.07 L150.62,111.82 L152.15,111.58 L153.68,111.35 L155.21,111.13 L156.74,110.92 L158.27,110.72 L159.80,110.53 L161.33,110.35 L162.86,110.18 L164.39,110.02 L165.92,109.86 L167.44,109.71 L168.97,109.56 L170.50,109.43 L172.03,109.29 L173.56,109.17 L175.09,109.05 L176.62,108.93 L178.15,108.82 L179.68,108.71 L181.21,108.61 L182.74,108.51 L184.27,108.41 L185.80,108.32 L187.32,108.23 L188.85,108.14 L190.38,108.06 L191.91,107.98 L193.44,107.90 L194.97,107.82 L196.50,107.75 L198.03,107.67 L199.56,107.60 L201.09,107.54 L202.62,107.47 L204.15,107.40 L205.68,107.34 L207.20,107.28 L208.73,107.22 L210.26,107.16 L211.79,107.10 L213.32,107.04 L214.85,106.99 L216.38,106.93 L217.91,106.88 L219.44,106.83 L220.97,106.77 L222.50,106.72 L224.03,106.67 L225.56,106.62 L227.08,106.57 L228.61,106.53 L230.14,106.48 L231.67,106.43 L233.20,106.38 L234.73,106.34 L236.26,106.29 L237.79,106.25 L239.32,106.20 L240.85,106.16 L242.38,106.11 L243.91,106.07 L245.44,106.03 L246.96,105.98" stroke="#ff2eff"/>
<path d="M64.98,206.33 L66.51,201.94 L68.04,197.75 L69.57,193.73 L71.10,189.90 L72.63,186.24 L74.16,182.75 L75.69,179.42 L77.22,176.25 L78.75,173.22 L80.28,170.33 L81.81,167.59 L83.34,164.97 L84.87,162.48 L86.39,160.11 L87.92,157.85 L89.45,155.71 L90.98,153.67 L92.51,151.73 L94.04,149.88 L95.57,148.13 L97.10,146.46 L98.63,144.88 L100.16,143.38 L101.69,141.95 L103.22,140.59 L104.75,139.30 L106.27,138.08 L107.80,136.91 L109.33,135.81 L110.86,134.76 L112.39,133.76 L113.92,132.81 L115.45,131.91 L116.98,131.06 L118.51,130.25 L120.04,129.47 L121.57,128.74 L123.10,128.04 L124.63,127.38 L126.15,126.75 L127.68,126.15 L129.21,125.57 L130.74,125.03 L132.27,124.51 L133.80,124.02 L135.33,123.55 L136.86,123.10 L138.39,122.67 L139.92,122.26 L141.45,121.87 L142.98,121.50 L144.51,121.15 L146.03,120.81 L147.56,120.48 L149.09,120.17 L150.62,119.87 L152.15,119.58 L153.68,119.31 L155.21,119.05 L156.74,118.79 L158.27,118.55 L159.80,118.32 L161.33,118.09 L162.86,117.87 L164.39,117.67 L165.92,117.46 L167.44,117.27 L168.97,117.08 L170.50,116.90 L172.03,116.72 L173.56,116.55 L175.09,116.39 L176.62,116.23 L178.15,116.07 L179.68,115.92 L181.21,115.77 L182.74,115.63 L184.27,115.49 L185.80,115.35 L187.32,115.22 L188.85,115.09 L190.38,114.96 L191.91,114.84 L193.44,114.72 L194.97,114.60 L196.50,114.48 L198.03,114.37 L199.56,114.26 L201.09,114.15 L202.62,114.04 L204.15,113.93 L205.68,113.82 L207.20,113.72 L208.73,113.62 L210.26,113.52 L211.79,113.42 L213.32,113.32 L214.85,113.22 L216.38,113.13 L217.91,113.03 L219.44,112.94 L220.97,112.85 L222.50,112.76 L224.03,112.67 L225.56,112.58 L227.08,112.49 L228.61,112.40 L230.14,112.31 L231.67,112.23 L233.20,112.14 L234.73,112.06 L236.26,111.97 L237.79,111.89 L239.32,111.80 L240.85,111.72 L242.38,111.64 L243.91,111.56 L245.44,111.48 L246.96,111.40" stroke="#8fdc8f"/>
<path d="M64.98,222.43 L66.51,217.82 L68.04,213.41 L69.57,209.19 L71.10,205.16 L72.63,201.30 L74.16,197.61 L75.69,194.09 L77.22,190.72 L78.75,187.51 L80.28,184.44 L81.81,181.51 L83.34,178.72 L84.87,176.06 L86.39,173.51 L87.92,171.09 L89.45,168.78 L90.98,166.58 L92.51,164.48 L94.04,162.48 L95.57,160.58 L97.10,158.76 L98.63,157.03 L100.16,155.38 L101.69,153.81 L103.22,152.31 L104.75,150.88 L106.27,149.52 L107.80,148.22 L109.33,146.98 L110.86,145.81 L112.39,144.68 L113.92,143.61 L115.45,142.58 L116.98,141.60 L118.51,140.67 L120.04,139.78 L121.57,138.93 L123.10,138.11 L124.63,137.34 L126.15,136.59 L127.68,135.88 L129.21,135.20 L130.74,134.55 L132.27,133.92 L133.80,133.32 L135.33,132.75 L136.86,132.20 L138.39,131.67 L139.92,131.16 L141.45,130.67 L142.98,130.20 L144.51,129.74 L146.03,129.31 L147.56,128.89 L149.09,128.48 L150.62,128.09 L152.15,127.72 L153.68,127.35 L155.21,127.00 L156.74,126.66 L158.27,126.33 L159.80,126.01 L161.33,125.69 L162.86,125.39 L164.39,125.10 L165.92,124.82 L167.44,124.54 L168.97,124.27 L170.50,124.01 L172.03,123.75 L173.56,123.50 L175.09,123.26 L176.62,123.02 L178.15,122.79 L179.68,122.56 L181.21,122.34 L182.74,122.12 L184.27,121.91 L185.80,121.70 L187.32,121.49 L188.85,121.29 L190.38,121.09 L191.91,120.90 L193.44,120.70 L194.97,120.52 L196.50,120.33 L198.03,120.15 L199.56,119.97 L201.09,119.79 L202.62,119.62 L204.15,119.44 L205.68,119.27 L207.20,119.11 L208.73,118.94 L210.26,118.78 L211.79,118.61 L213.32,118.45 L214.85,118.30 L216.38,118.14 L217.91,117.99 L219.44,117.83 L220.97,117.68 L222.50,117.53 L224.03,117.38 L225.56,117.23 L227.08,117.09 L228.61,116.94 L230.14,116.80 L231.67,116.66 L233.20,116.52 L234.73,116.38 L236.26,116.24 L237.79,116.10 L239.32,115.96 L240.85,115.83 L242.38,115.69 L243.91,115.56 L245.44,115.43 L246.96,115.30" stroke="#ffcf2e"/>
<path d="M64.98,191.51 L66.51,187.27 L68.04,183.22 L69.57,179.34 L71.10,175.65 L72.63,172.12 L74.16,168.75 L75.69,165.54 L77.22,162.48 L78.75,159.56 L80.28,156.78 L81.81,154.13 L83.34,151.62 L84.87,149.22 L86.39,146.94 L87.92,144.77 L89.45,142.72 L90.98,140.76 L92.51,138.90 L94.04,137.13 L95.57,135.46 L97.10,133.87 L98.63,132.36 L100.16,130.93 L101.69,129.57 L103.22,128.28 L104.75,127.06 L106.27,125.90 L107.80,124.81 L109.33,123.77 L110.86,122.78 L112.39,121.85 L113.92,120.96 L115.45,120.13 L116.98,119.33 L118.51,118.58 L120.04,117.87 L121.57,117.20 L123.10,116.56 L124.63,115.96 L126.15,115.39 L127.68,114.84 L129.21,114.33 L130.74,113.85 L132.27,113.39 L133.80,112.95 L135.33,112.54 L136.86,112.15 L138.39,111.78 L139.92,111.43 L141.45,111.10 L142.98,110.79 L144.51,110.49 L146.03,110.21 L147.56,109.94 L149.09,109.69 L150.62,109.45 L152.15,109.22 L153.68,109.00 L155.21,108.80 L156.74,108.60 L158.27,108.42 L159.80,108.24 L161.33,108.08 L162.86,107.92 L164.39,107.76 L165.92,107.62 L167.44,107.48 L168.97,107.35 L170.50,107.23 L172.03,107.11 L173.56,107.00 L175.09,106.89 L176.62,106.78 L178.15,106.68 L179.68,106.59 L181.21,106.50 L182.74,106.41 L184.27,106.33 L185.80,106.25 L187.32,106.17 L188.85,106.10 L190.38,106.03 L191.91,105.96 L193.44,105.89 L194.97,105.83 L196.50,105.77 L198.03,105.71 L199.56,105.65 L201.09,105.59 L202.62,105.54 L204.15,105.48 L205.68,105.43 L207.20,105.38 L208.73,105.34 L210.26,105.29 L211.79,105.24 L213.32,105.20 L214.85,105.15 L216.38,105.11 L217.91,105.07 L219.44,105.03 L220.97,104.99 L222.50,104.95 L224.03,104.91 L225.56,104.87 L227.08,104.83 L228.61,104.80 L230.14,104.76 L231.67,104.73 L233.20,104.69 L234.73,104.66 L236.26,104.62 L237.79,104.59 L239.32,104.55 L240.85,104.52 L242.38,104.49 L243.91,104.46 L245.44,104.42 L246.96,104.39" stroke="#ff2e2e"/>
</g>
<path d="M72.5,191.5 h2.5 M237,191.5 h-2.5 M72.5,157.5 h2.5 M237,157.5 h-2.5 M72.5,122.5 h2.5 M237,122.5 h-2.5 M110.5,209.3 v-2.5 M110.5,88.5 v2.5 M161.5,209.3 v-2.5 M161.5,88.5 v2.5 M212.5,209.3 v-2.5 M212.5,88.5 v2.5" stroke="#a8a8a8" stroke-width="1" fill="none"/>
<g class="ser" font-weight="bold" fill="#000" font-size="11.8">
<text x="67.8" y="195.12" text-anchor="end">0.55</text>
<text x="67.8" y="160.77" text-anchor="end">0.6</text>
<text x="67.8" y="126.42" text-anchor="end">0.65</text>
<text x="110.48" y="225.0" text-anchor="middle">0.1</text>
<text x="161.03" y="225.0" text-anchor="middle">0.15</text>
<text x="211.58" y="225.0" text-anchor="middle">0.2</text>
</g>
<rect x="239.5" y="56.5" width="87" height="113.8" fill="#fff" stroke="none"/>
<path d="M239.5,170.3 V56.6 H326.5" fill="none" stroke="#a6a6a6" stroke-width="1.1"/>
<path d="M326.5,56.6 V170.3 H239.5" fill="none" stroke="#7c7c7c" stroke-width="1.1"/>
<g class="ser" font-weight="bold" fill="#000" font-size="10.1">
<line x1="242" y1="64.1" x2="265.5" y2="64.1" stroke="#ffb0b0" stroke-width="1" stroke-dasharray="2.6,2.2"/>
<text x="268.8" y="67.50">Peak value</text>
<line x1="242" y1="78.4" x2="265.5" y2="78.4" stroke="#aab0ff" stroke-width="1" />
<text x="268.8" y="79.40">dFDB<tspan font-size="8.4" dy="4.4">M</tspan><tspan dy="-4.4">RFO</tspan></text>
<line x1="242" y1="92.3" x2="265.5" y2="92.3" stroke="#55ea55" stroke-width="1" />
<text x="268.8" y="95.70">GKSO</text>
<line x1="242" y1="104.2" x2="265.5" y2="104.2" stroke="#55f0f0" stroke-width="1" />
<text x="268.8" y="107.60">HMO</text>
<line x1="242" y1="116.1" x2="265.5" y2="116.1" stroke="#b0b0b0" stroke-width="1" />
<text x="268.8" y="119.50">SSA</text>
<line x1="242" y1="128.1" x2="265.5" y2="128.1" stroke="#ff77ff" stroke-width="1" />
<text x="268.8" y="131.50">DE</text>
<line x1="242" y1="140.2" x2="265.5" y2="140.2" stroke="#99dd99" stroke-width="1" />
<text x="268.8" y="143.60">MPA</text>
<line x1="242" y1="151.9" x2="265.5" y2="151.9" stroke="#ffe79a" stroke-width="1" />
<text x="268.8" y="155.30">TTAO</text>
<line x1="242" y1="163.8" x2="265.5" y2="163.8" stroke="#ffaaaa" stroke-width="1" />
<text x="268.8" y="167.20">GPSOM</text>
</g>
<g fill="none" stroke="#9a9a9a" stroke-width="1">
<rect x="395.5" y="17.5" width="278" height="107.8"/>
<rect x="395.5" y="133.5" width="278" height="95.3"/>
<path d="M412.5,17.5 v1.6 M412.5,125.3 v-1.6 M412.5,133.5 v1.6 M412.5,228.8 v-1.6 M422.5,17.5 v1.6 M422.5,125.3 v-1.6 M422.5,133.5 v1.6 M422.5,228.8 v-1.6 M429.5,17.5 v1.6 M429.5,125.3 v-1.6 M429.5,133.5 v1.6 M429.5,228.8 v-1.6 M434.5,17.5 v1.6 M434.5,125.3 v-1.6 M434.5,133.5 v1.6 M434.5,228.8 v-1.6 M439.5,17.5 v1.6 M439.5,125.3 v-1.6 M439.5,133.5 v1.6 M439.5,228.8 v-1.6 M442.5,17.5 v1.6 M442.5,125.3 v-1.6 M442.5,133.5 v1.6 M442.5,228.8 v-1.6 M446.5,17.5 v1.6 M446.5,125.3 v-1.6 M446.5,133.5 v1.6 M446.5,228.8 v-1.6 M449.5,17.5 v1.6 M449.5,125.3 v-1.6 M449.5,133.5 v1.6 M449.5,228.8 v-1.6 M451.5,17.5 v3.0 M451.5,125.3 v-3.0 M451.5,133.5 v3.0 M451.5,228.8 v-3.0 M468.5,17.5 v1.6 M468.5,125.3 v-1.6 M468.5,133.5 v1.6 M468.5,228.8 v-1.6 M478.5,17.5 v1.6 M478.5,125.3 v-1.6 M478.5,133.5 v1.6 M478.5,228.8 v-1.6 M485.5,17.5 v1.6 M485.5,125.3 v-1.6 M485.5,133.5 v1.6 M485.5,228.8 v-1.6 M490.5,17.5 v1.6 M490.5,125.3 v-1.6 M490.5,133.5 v1.6 M490.5,228.8 v-1.6 M494.5,17.5 v1.6 M494.5,125.3 v-1.6 M494.5,133.5 v1.6 M494.5,228.8 v-1.6 M498.5,17.5 v1.6 M498.5,125.3 v-1.6 M498.5,133.5 v1.6 M498.5,228.8 v-1.6 M501.5,17.5 v1.6 M501.5,125.3 v-1.6 M501.5,133.5 v1.6 M501.5,228.8 v-1.6 M504.5,17.5 v1.6 M504.5,125.3 v-1.6 M504.5,133.5 v1.6 M504.5,228.8 v-1.6 M507.5,17.5 v3.0 M507.5,125.3 v-3.0 M507.5,133.5 v3.0 M507.5,228.8 v-3.0 M523.5,17.5 v1.6 M523.5,125.3 v-1.6 M523.5,133.5 v1.6 M523.5,228.8 v-1.6 M533.5,17.5 v1.6 M533.5,125.3 v-1.6 M533.5,133.5 v1.6 M533.5,228.8 v-1.6 M540.5,17.5 v1.6 M540.5,125.3 v-1.6 M540.5,133.5 v1.6 M540.5,228.8 v-1.6 M545.5,17.5 v1.6 M545.5,125.3 v-1.6 M545.5,133.5 v1.6 M545.5,228.8 v-1.6 M550.5,17.5 v1.6 M550.5,125.3 v-1.6 M550.5,133.5 v1.6 M550.5,228.8 v-1.6 M554.5,17.5 v1.6 M554.5,125.3 v-1.6 M554.5,133.5 v1.6 M554.5,228.8 v-1.6 M557.5,17.5 v1.6 M557.5,125.3 v-1.6 M557.5,133.5 v1.6 M557.5,228.8 v-1.6 M560.5,17.5 v1.6 M560.5,125.3 v-1.6 M560.5,133.5 v1.6 M560.5,228.8 v-1.6 M562.5,17.5 v3.0 M562.5,125.3 v-3.0 M562.5,133.5 v3.0 M562.5,228.8 v-3.0 M579.5,17.5 v1.6 M579.5,125.3 v-1.6 M579.5,133.5 v1.6 M579.5,228.8 v-1.6 M589.5,17.5 v1.6 M589.5,125.3 v-1.6 M589.5,133.5 v1.6 M589.5,228.8 v-1.6 M596.5,17.5 v1.6 M596.5,125.3 v-1.6 M596.5,133.5 v1.6 M596.5,228.8 v-1.6 M601.5,17.5 v1.6 M601.5,125.3 v-1.6 M601.5,133.5 v1.6 M601.5,228.8 v-1.6 M605.5,17.5 v1.6 M605.5,125.3 v-1.6 M605.5,133.5 v1.6 M605.5,228.8 v-1.6 M609.5,17.5 v1.6 M609.5,125.3 v-1.6 M609.5,133.5 v1.6 M609.5,228.8 v-1.6 M612.5,17.5 v1.6 M612.5,125.3 v-1.6 M612.5,133.5 v1.6 M612.5,228.8 v-1.6 M615.5,17.5 v1.6 M615.5,125.3 v-1.6 M615.5,133.5 v1.6 M615.5,228.8 v-1.6 M618.5,17.5 v3.0 M618.5,125.3 v-3.0 M618.5,133.5 v3.0 M618.5,228.8 v-3.0 M634.5,17.5 v1.6 M634.5,125.3 v-1.6 M634.5,133.5 v1.6 M634.5,228.8 v-1.6 M644.5,17.5 v1.6 M644.5,125.3 v-1.6 M644.5,133.5 v1.6 M644.5,228.8 v-1.6 M651.5,17.5 v1.6 M651.5,125.3 v-1.6 M651.5,133.5 v1.6 M651.5,228.8 v-1.6 M657.5,17.5 v1.6 M657.5,125.3 v-1.6 M657.5,133.5 v1.6 M657.5,228.8 v-1.6 M661.5,17.5 v1.6 M661.5,125.3 v-1.6 M661.5,133.5 v1.6 M661.5,228.8 v-1.6 M665.5,17.5 v1.6 M665.5,125.3 v-1.6 M665.5,133.5 v1.6 M665.5,228.8 v-1.6 M668.5,17.5 v1.6 M668.5,125.3 v-1.6 M668.5,133.5 v1.6 M668.5,228.8 v-1.6 M671.5,17.5 v1.6 M671.5,125.3 v-1.6 M671.5,133.5 v1.6 M671.5,228.8 v-1.6 M395.5,53.5 h3 M673.5,53.5 h-3 M395.5,89.5 h3 M673.5,89.5 h-3 M395.5,165.5 h3 M673.5,165.5 h-3 M395.5,197.5 h3 M673.5,197.5 h-3"/>
</g>
<path d="M395.50,30.83 L396.20,30.83 L396.89,30.83 L397.59,30.83 L398.28,30.83 L398.98,30.83 L399.68,30.83 L400.37,30.83 L401.07,30.83 L401.77,30.83 L402.46,30.83 L403.16,30.83 L403.85,30.83 L404.55,30.83 L405.25,30.83 L405.94,30.83 L406.64,30.83 L407.34,30.83 L408.03,30.83 L408.73,30.83 L409.42,30.83 L410.12,30.83 L410.82,30.83 L411.51,30.83 L412.21,30.83 L412.91,30.83 L413.60,30.83 L414.30,30.83 L414.99,30.83 L415.69,30.84 L416.39,30.84 L417.08,30.84 L417.78,30.84 L418.48,30.84 L419.17,30.84 L419.87,30.84 L420.56,30.84 L421.26,30.84 L421.96,30.84 L422.65,30.84 L423.35,30.84 L424.05,30.84 L424.74,30.85 L425.44,30.85 L426.13,30.85 L426.83,30.85 L427.53,30.85 L428.22,30.85 L428.92,30.85 L429.62,30.86 L430.31,30.86 L431.01,30.86 L431.70,30.86 L432.40,30.86 L433.10,30.86 L433.79,30.87 L434.49,30.87 L435.19,30.87 L435.88,30.87 L436.58,30.88 L437.27,30.88 L437.97,30.88 L438.67,30.89 L439.36,30.89 L440.06,30.89 L440.76,30.90 L441.45,30.90 L442.15,30.91 L442.84,30.91 L443.54,30.92 L444.24,30.92 L444.93,30.93 L445.63,30.93 L446.33,30.94 L447.02,30.95 L447.72,30.95 L448.41,30.96 L449.11,30.97 L449.81,30.98 L450.50,30.99 L451.20,31.00 L451.90,31.01 L452.59,31.02 L453.29,31.03 L453.98,31.04 L454.68,31.05 L455.38,31.06 L456.07,31.08 L456.77,31.09 L457.47,31.11 L458.16,31.12 L458.86,31.14 L459.55,31.16 L460.25,31.18 L460.95,31.20 L461.64,31.22 L462.34,31.24 L463.04,31.26 L463.73,31.28 L464.43,31.31 L465.12,31.34 L465.82,31.36 L466.52,31.39 L467.21,31.42 L467.91,31.46 L468.61,31.49 L469.30,31.53 L470.00,31.56 L470.69,31.60 L471.39,31.64 L472.09,31.68 L472.78,31.73 L473.48,31.78 L474.18,31.82 L474.87,31.87 L475.57,31.93 L476.26,31.98 L476.96,32.04 L477.66,32.10 L478.35,32.16 L479.05,32.22 L479.75,32.29 L480.44,32.36 L481.14,32.43 L481.83,32.50 L482.53,32.58 L483.23,32.66 L483.92,32.74 L484.62,32.82 L485.32,32.91 L486.01,33.00 L486.71,33.09 L487.40,33.18 L488.10,33.28 L488.80,33.38 L489.49,33.48 L490.19,33.59 L490.88,33.70 L491.58,33.81 L492.28,33.92 L492.97,34.03 L493.67,34.15 L494.37,34.27 L495.06,34.39 L495.76,34.52 L496.45,34.64 L497.15,34.77 L497.85,34.90 L498.54,35.03 L499.24,35.17 L499.94,35.31 L500.63,35.45 L501.33,35.59 L502.02,35.73 L502.72,35.87 L503.42,36.02 L504.11,36.17 L504.81,36.32 L505.51,36.47 L506.20,36.62 L506.90,36.78 L507.59,36.93 L508.29,37.09 L508.99,37.25 L509.68,37.41 L510.38,37.57 L511.08,37.73 L511.77,37.89 L512.47,38.06 L513.16,38.22 L513.86,38.39 L514.56,38.56 L515.25,38.72 L515.95,38.89 L516.65,39.06 L517.34,39.24 L518.04,39.41 L518.73,39.58 L519.43,39.76 L520.13,39.93 L520.82,40.11 L521.52,40.28 L522.22,40.46 L522.91,40.64 L523.61,40.82 L524.30,41.00 L525.00,41.18 L525.70,41.36 L526.39,41.54 L527.09,41.73 L527.79,41.91 L528.48,42.10 L529.18,42.28 L529.87,42.47 L530.57,42.66 L531.27,42.84 L531.96,43.03 L532.66,43.22 L533.36,43.41 L534.05,43.61 L534.75,43.80 L535.44,43.99 L536.14,44.19 L536.84,44.39 L537.53,44.58 L538.23,44.78 L538.93,44.98 L539.62,45.19 L540.32,45.39 L541.01,45.59 L541.71,45.80 L542.41,46.01 L543.10,46.21 L543.80,46.42 L544.50,46.64 L545.19,46.85 L545.89,47.07 L546.58,47.28 L547.28,47.50 L547.98,47.72 L548.67,47.95 L549.37,48.17 L550.07,48.40 L550.76,48.63 L551.46,48.86 L552.15,49.09 L552.85,49.33 L553.55,49.57 L554.24,49.81 L554.94,50.06 L555.64,50.30 L556.33,50.55 L557.03,50.80 L557.72,51.06 L558.42,51.31 L559.12,51.57 L559.81,51.84 L560.51,52.10 L561.21,52.37 L561.90,52.64 L562.60,52.92 L563.29,53.20 L563.99,53.48 L564.69,53.76 L565.38,54.05 L566.08,54.34 L566.78,54.63 L567.47,54.93 L568.17,55.22 L568.86,55.53 L569.56,55.83 L570.26,56.14 L570.95,56.45 L571.65,56.76 L572.35,57.08 L573.04,57.40 L573.74,57.72 L574.43,58.05 L575.13,58.38 L575.83,58.71 L576.52,59.05 L577.22,59.38 L577.92,59.72 L578.61,60.07 L579.31,60.41 L580.00,60.76 L580.70,61.12 L581.40,61.47 L582.09,61.83 L582.79,62.19 L583.48,62.55 L584.18,62.92 L584.88,63.29 L585.57,63.66 L586.27,64.04 L586.97,64.42 L587.66,64.80 L588.36,65.18 L589.05,65.57 L589.75,65.96 L590.45,66.35 L591.14,66.74 L591.84,67.14 L592.54,67.54 L593.23,67.95 L593.93,68.36 L594.62,68.77 L595.32,69.18 L596.02,69.60 L596.71,70.02 L597.41,70.44 L598.11,70.86 L598.80,71.29 L599.50,71.73 L600.19,72.16 L600.89,72.60 L601.59,73.04 L602.28,73.48 L602.98,73.93 L603.68,74.38 L604.37,74.83 L605.07,75.29 L605.76,75.74 L606.46,76.21 L607.16,76.67 L607.85,77.14 L608.55,77.61 L609.25,78.08 L609.94,78.55 L610.64,79.03 L611.33,79.51 L612.03,79.99 L612.73,80.47 L613.42,80.96 L614.12,81.45 L614.82,81.94 L615.51,82.43 L616.21,82.93 L616.90,83.43 L617.60,83.93 L618.30,84.43 L618.99,84.93 L619.69,85.43 L620.39,85.94 L621.08,86.45 L621.78,86.96 L622.47,87.47 L623.17,87.98 L623.87,88.49 L624.56,89.01 L625.26,89.52 L625.96,90.04 L626.65,90.56 L627.35,91.08 L628.04,91.60 L628.74,92.12 L629.44,92.64 L630.13,93.17 L630.83,93.69 L631.53,94.22 L632.22,94.74 L632.92,95.27 L633.61,95.80 L634.31,96.32 L635.01,96.85 L635.70,97.38 L636.40,97.91 L637.10,98.44 L637.79,98.97 L638.49,99.50 L639.18,100.04 L639.88,100.57 L640.58,101.10 L641.27,101.64 L641.97,102.17 L642.67,102.70 L643.36,103.24 L644.06,103.77 L644.75,104.31 L645.45,104.84 L646.15,105.38 L646.84,105.91 L647.54,106.45 L648.24,106.99 L648.93,107.52 L649.63,108.06 L650.32,108.60 L651.02,109.13 L651.72,109.67 L652.41,110.21 L653.11,110.75 L653.81,111.28 L654.50,111.82 L655.20,112.36 L655.89,112.90 L656.59,113.44 L657.29,113.97 L657.98,114.51 L658.68,115.05 L659.38,115.59 L660.07,116.13 L660.77,116.67 L661.46,117.21 L662.16,117.75 L662.86,118.29 L663.55,118.82 L664.25,119.36 L664.95,119.90 L665.64,120.44 L666.34,120.98 L667.03,121.52 L667.73,122.06 L668.43,122.60 L669.12,123.14 L669.82,123.68 L670.52,124.22 L671.21,124.76 L671.91,125.30 L672.60,125.84 L673.30,126.38" fill="none" stroke="#2a86cc" stroke-width="1.15" clip-path="url(#cb1)"/>
<path d="M395.50,133.80 L396.20,133.81 L396.89,133.83 L397.59,133.85 L398.28,133.86 L398.98,133.88 L399.68,133.89 L400.37,133.91 L401.07,133.93 L401.77,133.95 L402.46,133.97 L403.16,133.99 L403.85,134.01 L404.55,134.03 L405.25,134.05 L405.94,134.07 L406.64,134.09 L407.34,134.12 L408.03,134.14 L408.73,134.17 L409.42,134.19 L410.12,134.22 L410.82,134.24 L411.51,134.27 L412.21,134.30 L412.91,134.33 L413.60,134.36 L414.30,134.39 L414.99,134.42 L415.69,134.45 L416.39,134.49 L417.08,134.52 L417.78,134.56 L418.48,134.59 L419.17,134.63 L419.87,134.67 L420.56,134.71 L421.26,134.75 L421.96,134.80 L422.65,134.84 L423.35,134.88 L424.05,134.93 L424.74,134.98 L425.44,135.03 L426.13,135.08 L426.83,135.13 L427.53,135.18 L428.22,135.24 L428.92,135.29 L429.62,135.35 L430.31,135.41 L431.01,135.47 L431.70,135.54 L432.40,135.60 L433.10,135.67 L433.79,135.74 L434.49,135.81 L435.19,135.88 L435.88,135.95 L436.58,136.03 L437.27,136.11 L437.97,136.19 L438.67,136.27 L439.36,136.36 L440.06,136.45 L440.76,136.54 L441.45,136.63 L442.15,136.73 L442.84,136.83 L443.54,136.93 L444.24,137.03 L444.93,137.14 L445.63,137.25 L446.33,137.36 L447.02,137.48 L447.72,137.60 L448.41,137.72 L449.11,137.85 L449.81,137.98 L450.50,138.11 L451.20,138.25 L451.90,138.39 L452.59,138.53 L453.29,138.68 L453.98,138.83 L454.68,138.98 L455.38,139.14 L456.07,139.30 L456.77,139.47 L457.47,139.64 L458.16,139.81 L458.86,139.99 L459.55,140.18 L460.25,140.37 L460.95,140.56 L461.64,140.75 L462.34,140.95 L463.04,141.16 L463.73,141.37 L464.43,141.59 L465.12,141.80 L465.82,142.03 L466.52,142.26 L467.21,142.49 L467.91,142.73 L468.61,142.97 L469.30,143.22 L470.00,143.47 L470.69,143.72 L471.39,143.98 L472.09,144.25 L472.78,144.51 L473.48,144.79 L474.18,145.06 L474.87,145.34 L475.57,145.63 L476.26,145.91 L476.96,146.21 L477.66,146.50 L478.35,146.80 L479.05,147.10 L479.75,147.40 L480.44,147.71 L481.14,148.02 L481.83,148.33 L482.53,148.64 L483.23,148.96 L483.92,149.28 L484.62,149.60 L485.32,149.92 L486.01,150.24 L486.71,150.56 L487.40,150.88 L488.10,151.20 L488.80,151.53 L489.49,151.85 L490.19,152.17 L490.88,152.50 L491.58,152.82 L492.28,153.14 L492.97,153.46 L493.67,153.78 L494.37,154.09 L495.06,154.41 L495.76,154.72 L496.45,155.04 L497.15,155.35 L497.85,155.66 L498.54,155.96 L499.24,156.27 L499.94,156.57 L500.63,156.87 L501.33,157.17 L502.02,157.46 L502.72,157.76 L503.42,158.05 L504.11,158.34 L504.81,158.62 L505.51,158.90 L506.20,159.19 L506.90,159.46 L507.59,159.74 L508.29,160.02 L508.99,160.29 L509.68,160.56 L510.38,160.83 L511.08,161.09 L511.77,161.36 L512.47,161.62 L513.16,161.88 L513.86,162.14 L514.56,162.40 L515.25,162.65 L515.95,162.91 L516.65,163.16 L517.34,163.42 L518.04,163.67 L518.73,163.92 L519.43,164.17 L520.13,164.43 L520.82,164.68 L521.52,164.93 L522.22,165.18 L522.91,165.43 L523.61,165.68 L524.30,165.93 L525.00,166.19 L525.70,166.44 L526.39,166.69 L527.09,166.95 L527.79,167.21 L528.48,167.47 L529.18,167.73 L529.87,167.99 L530.57,168.25 L531.27,168.52 L531.96,168.78 L532.66,169.06 L533.36,169.33 L534.05,169.60 L534.75,169.88 L535.44,170.16 L536.14,170.45 L536.84,170.73 L537.53,171.02 L538.23,171.32 L538.93,171.61 L539.62,171.91 L540.32,172.22 L541.01,172.53 L541.71,172.84 L542.41,173.15 L543.10,173.47 L543.80,173.80 L544.50,174.13 L545.19,174.46 L545.89,174.79 L546.58,175.14 L547.28,175.48 L547.98,175.83 L548.67,176.18 L549.37,176.54 L550.07,176.91 L550.76,177.27 L551.46,177.64 L552.15,178.02 L552.85,178.40 L553.55,178.78 L554.24,179.17 L554.94,179.56 L555.64,179.95 L556.33,180.35 L557.03,180.76 L557.72,181.16 L558.42,181.57 L559.12,181.98 L559.81,182.40 L560.51,182.82 L561.21,183.24 L561.90,183.66 L562.60,184.09 L563.29,184.52 L563.99,184.95 L564.69,185.38 L565.38,185.81 L566.08,186.25 L566.78,186.69 L567.47,187.13 L568.17,187.57 L568.86,188.01 L569.56,188.45 L570.26,188.89 L570.95,189.34 L571.65,189.78 L572.35,190.22 L573.04,190.67 L573.74,191.12 L574.43,191.56 L575.13,192.01 L575.83,192.45 L576.52,192.90 L577.22,193.35 L577.92,193.79 L578.61,194.24 L579.31,194.68 L580.00,195.13 L580.70,195.57 L581.40,196.02 L582.09,196.46 L582.79,196.91 L583.48,197.35 L584.18,197.80 L584.88,198.24 L585.57,198.68 L586.27,199.12 L586.97,199.57 L587.66,200.01 L588.36,200.45 L589.05,200.89 L589.75,201.33 L590.45,201.77 L591.14,202.20 L591.84,202.64 L592.54,203.08 L593.23,203.51 L593.93,203.95 L594.62,204.38 L595.32,204.81 L596.02,205.24 L596.71,205.67 L597.41,206.09 L598.11,206.51 L598.80,206.94 L599.50,207.35 L600.19,207.77 L600.89,208.19 L601.59,208.60 L602.28,209.00 L602.98,209.41 L603.68,209.81 L604.37,210.21 L605.07,210.60 L605.76,210.99 L606.46,211.38 L607.16,211.76 L607.85,212.14 L608.55,212.51 L609.25,212.88 L609.94,213.24 L610.64,213.60 L611.33,213.96 L612.03,214.30 L612.73,214.65 L613.42,214.98 L614.12,215.32 L614.82,215.64 L615.51,215.97 L616.21,216.28 L616.90,216.59 L617.60,216.90 L618.30,217.20 L618.99,217.49 L619.69,217.78 L620.39,218.06 L621.08,218.33 L621.78,218.60 L622.47,218.87 L623.17,219.13 L623.87,219.38 L624.56,219.63 L625.26,219.87 L625.96,220.11 L626.65,220.34 L627.35,220.56 L628.04,220.78 L628.74,221.00 L629.44,221.21 L630.13,221.42 L630.83,221.62 L631.53,221.81 L632.22,222.00 L632.92,222.19 L633.61,222.37 L634.31,222.54 L635.01,222.72 L635.70,222.88 L636.40,223.05 L637.10,223.20 L637.79,223.36 L638.49,223.51 L639.18,223.66 L639.88,223.80 L640.58,223.94 L641.27,224.07 L641.97,224.21 L642.67,224.33 L643.36,224.46 L644.06,224.58 L644.75,224.70 L645.45,224.81 L646.15,224.93 L646.84,225.03 L647.54,225.14 L648.24,225.24 L648.93,225.34 L649.63,225.44 L650.32,225.53 L651.02,225.63 L651.72,225.72 L652.41,225.80 L653.11,225.89 L653.81,225.97 L654.50,226.05 L655.20,226.13 L655.89,226.20 L656.59,226.28 L657.29,226.35 L657.98,226.42 L658.68,226.48 L659.38,226.55 L660.07,226.61 L660.77,226.68 L661.46,226.74 L662.16,226.79 L662.86,226.85 L663.55,226.91 L664.25,226.96 L664.95,227.01 L665.64,227.06 L666.34,227.11 L667.03,227.16 L667.73,227.21 L668.43,227.25 L669.12,227.30 L669.82,227.34 L670.52,227.38 L671.21,227.42 L671.91,227.46 L672.60,227.50 L673.30,227.53" fill="none" stroke="#2a86cc" stroke-width="1.15" clip-path="url(#cb2)"/>
<g class="sans" fill="#1a1a1a" stroke="#1a1a1a" stroke-width="0.25" font-size="8.6" text-anchor="end">
<text x="391.2" y="20.60">50</text>
<text x="391.2" y="56.53">0</text>
<text x="391.2" y="92.47">-50</text>
<text x="391.2" y="128.40">-100</text>
<text x="391.2" y="136.40">0</text>
<text x="391.2" y="168.23">-90</text>
<text x="391.2" y="200.07">-180</text>
<text x="391.2" y="231.90">-270</text>
</g>
<g class="sans" fill="#1a1a1a" stroke="#1a1a1a" stroke-width="0.25" font-size="8.6">
<text x="395.20" y="244.3" text-anchor="middle"><tspan>10</tspan><tspan font-size="7.2" dx="-0.4" dy="-3.4">-3</tspan></text>
<text x="450.76" y="244.3" text-anchor="middle"><tspan>10</tspan><tspan font-size="7.2" dx="-0.4" dy="-3.4">-2</tspan></text>
<text x="506.32" y="244.3" text-anchor="middle"><tspan>10</tspan><tspan font-size="7.2" dx="-0.4" dy="-3.4">-1</tspan></text>
<text x="561.88" y="244.3" text-anchor="middle"><tspan>10</tspan><tspan font-size="7.2" dx="-0.4" dy="-3.4">0</tspan></text>
<text x="617.44" y="244.3" text-anchor="middle"><tspan>10</tspan><tspan font-size="7.2" dx="-0.4" dy="-3.4">1</tspan></text>
<text x="673.00" y="244.3" text-anchor="middle"><tspan>10</tspan><tspan font-size="7.2" dx="-0.4" dy="-3.4">2</tspan></text>
</g>
<text class="ser" font-weight="bold" x="533.5" y="8.3" font-size="12" text-anchor="middle">Bode Diagram</text>
<text class="ser" font-weight="bold" x="533.5" y="256.7" font-size="12.2" text-anchor="middle" style="white-space:pre">Frequency  (rad/s)</text>
<g class="sans" fill="#111" stroke="#111" stroke-width="0.3" font-size="9.3">
<text transform="translate(369.6,60.2) rotate(-90)" text-anchor="middle">(dB)</text>
<text transform="translate(369.6,169.6) rotate(-90)" text-anchor="middle">(deg)</text>
</g>
<path transform="translate(365.5,77.1) rotate(-90) scale(1.07) translate(-4,-4)" stroke="#4a4a4a" stroke-width="0.75" fill="none" d="M2,0.3 L0.3,3.6 M1.3,2 V8 M3.2,1.3 H7.7 M5.5,0.2 V2.4 M4.1,2.6 H7 V6.9 H4.1 Z M4.1,4.1 H7 M4.1,5.5 H7 M2.9,7.8 H7.9 M3.1,2.6 V7.8"/>
<path transform="translate(365.5,86.9) rotate(-90) scale(1.07) translate(-4,-4)" stroke="#4a4a4a" stroke-width="0.75" fill="none" d="M0.3,2.6 V6.6 M0.3,2.6 H2.9 V6.2 M1.6,0.4 V8 M3.8,0.8 H7.8 M4.5,2 H7.2 V3.6 H4.5 Z M4,4.6 H7.6 V7.8 H4 Z M5.8,4.6 V7.8 M4,6.2 H7.6"/>
<path transform="translate(365.5,189.5) rotate(-90) scale(1.07) translate(-4,-4)" stroke="#4a4a4a" stroke-width="0.75" fill="none" d="M2,0.3 L0.3,3.6 M1.3,2 V8 M5.2,0.2 L5.7,1.3 M3.2,2.1 H7.6 M4.2,3.4 L4.8,6.1 M6.8,3.4 L6.2,6.1 M3,7.6 H7.9"/>
<path transform="translate(365.5,199.2) rotate(-90) scale(1.07) translate(-4,-4)" stroke="#4a4a4a" stroke-width="0.75" fill="none" d="M0.2,2.5 H3.5 M1.8,0.3 V8 M1.8,3 L0.2,6.4 M1.9,3.6 L3.3,5.4 M4.5,1 H7.5 V7.8 H4.5 Z M4.5,3.3 H7.5 M4.5,5.6 H7.5"/>
<g class="ser" fill="#000" font-size="20.3">
<text transform="translate(21.5,278.8) scale(1,1.07)">(a)Speed step response curve</text>
<text transform="translate(443.3,278.6) scale(1,1.07)" textLength="241" lengthAdjust="spacingAndGlyphs">(b) Bode diagram of GPOSM</text>
</g>
</svg></body></html>
